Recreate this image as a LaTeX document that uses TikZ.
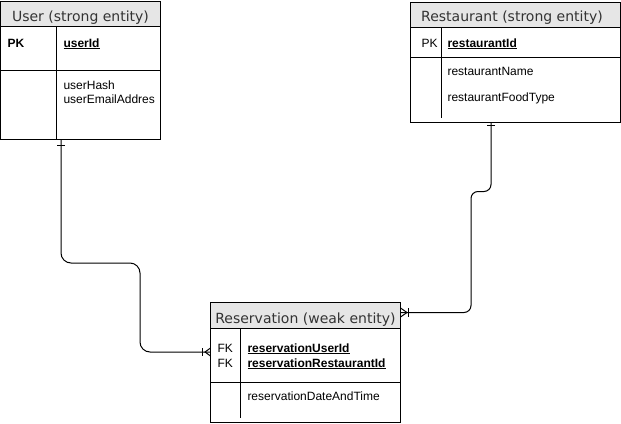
\documentclass[tikz,border=0pt]{standalone}
\usepackage{fontspec}
\setmainfont{Liberation Sans}
\newfontfamily\headfont{DejaVu Sans}
\definecolor{hdrfill}{HTML}{E6E6E6}
\definecolor{hdrtext}{HTML}{333333}
\begin{document}
\begin{tikzpicture}[x=1pt,y=-1pt,line width=1pt,
  entity/.style={draw=black,fill=white,rectangle,anchor=north west,inner sep=0pt,outer sep=0pt},
  hdr/.style={draw=black,fill=hdrfill,rectangle,anchor=north west,inner sep=0pt,outer sep=0pt},
  hdrlabel/.style={anchor=base,inner sep=0pt,text=hdrtext,font=\headfont\fontsize{14}{16}\selectfont},
  attr/.style={anchor=base west,inner sep=0pt,font=\fontsize{12}{14}\selectfont},
  conn/.style={draw=black,line width=1pt},
  ermark/.style={draw=black,line width=1pt}]
\useasboundingbox (0,0) rectangle (621,423);

% ---------- User ----------
\node[entity,minimum width=160pt,minimum height=138pt] (user) at (0.5,1) {};
\node[hdr,minimum width=160pt,minimum height=25pt] (userH) at (0.5,1) {};
\node[hdrlabel] (userT) at (80.5,21) {User (strong entity)};
\draw (56,26) -- (56,139);
\draw (0.5,70) -- (160.5,70);
\node[attr] (userPK) at (7,47) {\textbf{PK}};
\node[attr] (userId) at (63,47) {\underline{\textbf{userId}}};
\node[attr] (userHash) at (63,89) {userHash};
\node[attr] (userMail) at (63,103) {userEmailAddres};

% ---------- Restaurant ----------
\node[entity,minimum width=210pt,minimum height=120pt] (rest) at (410.5,2) {};
\node[hdr,minimum width=210pt,minimum height=25pt] (restH) at (410.5,2) {};
\node[hdrlabel] (restT) at (512,21) {Restaurant (strong entity)};
\draw (441,27) -- (441,118);
\draw (410.5,57) -- (620.5,57);
\node[attr] (restPK) at (421,47) {PK};
\node[attr] (restId) at (447,47) {\underline{\textbf{restaurantId}}};
\node[attr] (restName) at (447,75) {restaurantName};
\node[attr] (restFood) at (447,101) {restaurantFoodType};

% ---------- Reservation ----------
\node[entity,minimum width=190pt,minimum height=120pt] (resv) at (210.5,302) {};
\node[hdr,minimum width=190pt,minimum height=26pt] (resvH) at (210.5,302) {};
\node[hdrlabel] (resvT) at (305.5,323) {Reservation (weak entity)};
\draw (240,328) -- (240,418);
\draw (210.5,382) -- (400.5,382);
\node[attr] (resvFK1) at (217,352) {FK};
\node[attr] (resvFK2) at (217,367) {FK};
\node[attr] (resvUid) at (247,352) {\underline{\textbf{reservationUserId}}};
\node[attr] (resvRid) at (247,367) {\underline{\textbf{reservationRestaurantId}}};
\node[attr] (resvDate) at (247,400) {reservationDateAndTime};

% ---------- connector endpoints ----------
\coordinate (uEnd) at (61,139);
\coordinate (rvL) at (210.5,352);
\coordinate (rEnd) at (491,122);
\coordinate (rvR) at (400.5,312.5);

% User -> Reservation
\draw[conn,rounded corners=10pt] (uEnd) -- (61,263) -- (140,263) -- (140,352) -- (rvL);
\draw[ermark] (57,145) -- (65,145);
\draw[ermark] (202,348) -- (202,356);
\draw[ermark] (210.5,348) -- (205,352) -- (210.5,356);

% Restaurant -> Reservation
\draw[conn,rounded corners=7pt] (rEnd) -- (491,191.5) -- (471,191.5) -- (471,312.5) -- (rvR);
\draw[ermark] (487,125.5) -- (495,125.5);
\draw[ermark] (408.5,308) -- (408.5,317);
\draw[ermark] (400.5,308) -- (407,312.5) -- (400.5,317);
\end{tikzpicture}
\end{document}
